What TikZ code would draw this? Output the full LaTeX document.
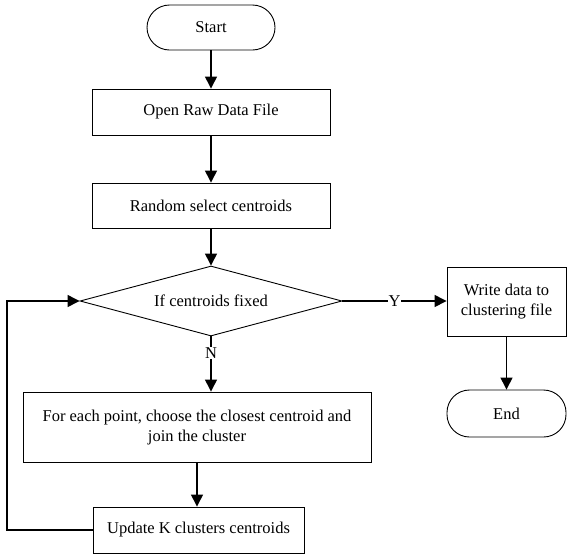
\documentclass[tikz,border=0pt]{standalone}
\usepackage{fontspec}
\setmainfont{Liberation Serif}
\usetikzlibrary{shapes.geometric,arrows.meta}
\begin{document}
\begin{tikzpicture}[x=1pt,y=-1pt,font=\fontsize{16.5}{20}\selectfont]
    \tikzstyle{box}=[draw,line width=0.9pt,inner sep=0pt,align=center]
    \tikzstyle{term}=[box,rounded corners=22.5pt]
    \tikzstyle{dec}=[draw,line width=0.9pt,diamond,aspect=3.74,inner sep=0pt]
    \tikzstyle{arr}=[-{Triangle[length=12pt,width=12pt]},line width=1.3pt]
    \tikzstyle{lbl}=[fill=white,inner sep=1pt]
    \useasboundingbox (0,0) rectangle (567,555);

    \node[term,minimum width=128pt,minimum height=45pt] (start) at (211,27.5) {Start};
    \node[box,minimum width=238pt,minimum height=46pt] (openfile) at (211,112) {Open Raw Data File};
    \node[box,minimum width=238pt,minimum height=45pt] (randsel) at (211,205.5) {Random select centroids};
    \node[dec,minimum width=262pt,minimum height=70pt] (fixed) at (211,301) {If centroids fixed};
    \node[box,minimum width=119pt,minimum height=69pt] (writefile) at (506.5,301.5) {Write data to\\clustering file};
    \node[term,minimum width=119pt,minimum height=47pt] (stop) at (506.5,413.5) {End};
    \node[draw,line width=0.9pt,inner sep=0pt,minimum width=348pt,minimum height=70pt] (assign) at (197,427)
     {\begin{tabular}{@{}c@{}}For each point, choose the closest centroid and\\join the cluster\end{tabular}};
    \node[box,minimum width=211pt,minimum height=46pt] (update) at (198.5,530) {Update K clusters centroids};
    \coordinate (loop) at (7,530);

    \draw[arr] (start) -- (openfile);
    \draw[arr] (openfile) -- (randsel);
    \draw[arr] (randsel) -- (fixed);
    \draw[arr] (fixed.east) -- node[lbl]{Y} (fixed.east -| writefile.west);
    \draw[arr] (writefile) -- (stop);
    \draw[arr] (fixed.south) -- node[lbl,pos=0.3]{N} (fixed.south |- assign.north);
    \draw[arr] (assign.south) -- (assign.south |- update.north);
    \draw[arr] (update.west) -- (loop) |- (fixed.west);
\end{tikzpicture}
\end{document}
